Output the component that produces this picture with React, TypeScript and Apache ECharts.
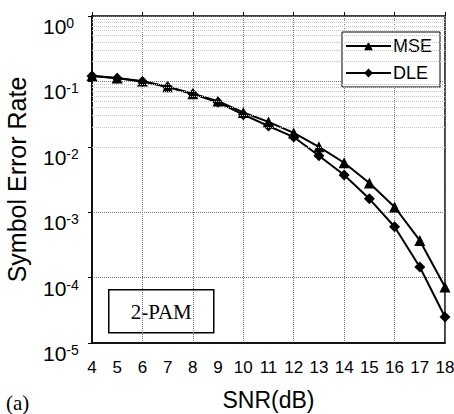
import React, { useEffect, useRef } from "react";
import * as echarts from "echarts";

const snr = [4, 5, 6, 7, 8, 9, 10, 11, 12, 13, 14, 15, 16, 17, 18];
const mseValues = [0.122, 0.113, 0.101, 0.083, 0.065, 0.05, 0.0335, 0.024, 0.0163, 0.01, 0.0057, 0.0028, 0.0012, 0.00037, 0.000072];
const dleValues = [0.121, 0.112, 0.1, 0.082, 0.064, 0.048, 0.031, 0.0208, 0.0141, 0.0073, 0.0037, 0.0016, 0.0006, 0.000145, 0.000025];
const decades = [1e-5, 1e-4, 1e-3, 1e-2, 1e-1, 1];
const minorMultipliers = [2, 3, 4, 5, 6, 7, 8, 9];

export default function App() {
  const ref = useRef<HTMLDivElement>(null);
  useEffect(() => {
    if (!ref.current) return;
    const chart = echarts.init(ref.current, null, { renderer: "svg" });
    const minorLines: any[] = [];
    decades.slice(0, -1).forEach((d) => {
      minorMultipliers.forEach((m) => minorLines.push({ yAxis: d * m }));
    });
    const font = "Liberation Sans";
    const serif = "Liberation Serif";
    const option: any = {
      animation: false,
      backgroundColor: "#fff",
      grid: {
        left: 92,
        right: 9,
        top: 16,
        bottom: 71,
        containLabel: false,
        outerBoundsMode: "none",
        show: true,
        borderColor: "#000",
        borderWidth: 1.5,
        backgroundColor: "transparent",
      },
      legend: {
        data: ["MSE", "DLE"],
        orient: "vertical",
        left: 342,
        top: 32,
        padding: [5, 8, 5, 3],
        itemWidth: 45,
        itemHeight: 11,
        itemGap: 9,
        borderColor: "#000",
        borderWidth: 1,
        backgroundColor: "#fff",
        textStyle: { fontSize: 18, lineHeight: 17, fontFamily: font, color: "#000", padding: [0, 0, 0, -3] },
      },
      xAxis: [
        {
          type: "value",
          min: 4,
          max: 18,
          interval: 1,
          position: "bottom",
          axisLine: { show: true, lineStyle: { color: "#000", width: 1.5 } },
          axisTick: { show: false },
          splitLine: { show: false },
          axisLabel: { fontSize: 17, fontFamily: font, color: "#000", margin: 16 },
          name: "SNR(dB)",
          nameLocation: "middle",
          nameGap: 45,
          nameTextStyle: { fontSize: 23, fontFamily: font, color: "#000" },
        },
        {
          type: "value",
          min: 4,
          max: 18,
          interval: 2,
          position: "top",
          axisLine: { show: false },
          axisTick: { show: true, length: 4, lineStyle: { color: "#000", width: 1 } },
          axisLabel: { show: false },
          splitLine: { show: true, lineStyle: { type: "dotted", color: "#777", width: 1 } },
        },
      ],
      yAxis: {
        type: "log",
        logBase: 10,
        min: 1e-5,
        max: 1,
        splitNumber: 5,
        axisLine: { show: true, lineStyle: { color: "#000", width: 1.5 } },
        axisTick: { show: true, length: 4, lineStyle: { color: "#000" } },
        splitLine: { show: true, lineStyle: { type: "dotted", color: "#777", width: 1 } },
        axisLabel: {
          align: "left",
          margin: 49,
          verticalAlign: "top",
          color: "#000",
          fontSize: 21,
          fontFamily: font,
          formatter: (v: number) => {
            const e = Math.round(Math.log10(v));
            return "{base|10}{sup|" + e + "}";
          },
          rich: {
            base: { fontSize: 21, lineHeight: 21, fontFamily: font, color: "#000" },
            sup: { fontSize: 14, lineHeight: 14, fontFamily: font, color: "#000", verticalAlign: "top" },
          },
        },
        name: "Symbol Error Rate",
        nameLocation: "middle",
        nameGap: 63,
        nameTextStyle: { fontSize: 25, fontFamily: font, color: "#000" },
      },
      series: [
        {
          name: "DLE",
          type: "line",
          data: snr.map((x, i) => [x, dleValues[i]]),
          symbol: "diamond",
          symbolSize: 11,
          lineStyle: { color: "#000", width: 2 },
          itemStyle: { color: "#000" },
          markLine: {
            silent: true,
            symbol: "none",
            label: { show: false },
            lineStyle: { type: "dotted", color: "#c4c4c4", width: 1 },
            data: minorLines,
          },
        },
        {
          name: "MSE",
          type: "line",
          data: snr.map((x, i) => [x, mseValues[i]]),
          symbol: "triangle",
          symbolSize: 11,
          lineStyle: { color: "#000", width: 2 },
          itemStyle: { color: "#000" },
        },
      ],
      graphic: [
        {
          type: "group",
          left: 108,
          top: 289,
          children: [
            {
              type: "rect",
              shape: { x: 0, y: 0, width: 105, height: 43 },
              style: { fill: "#fff", stroke: "#000", lineWidth: 1.5 },
            },
            {
              type: "text",
              x: 52.5,
              y: 22,
              style: {
                text: "2-PAM",
                fontSize: 21,
                fontFamily: serif,
                fill: "#000",
                align: "center",
                verticalAlign: "middle",
              },
            },
          ],
        },
        {
          type: "text",
          left: 6,
          top: 392,
          style: {
            text: "(a)",
            fontSize: 21,
            fontFamily: serif,
            fill: "#000",
          },
        },
      ],
    };
    chart.setOption(option);
    return () => chart.dispose();
  }, []);
  return <div ref={ref} style={{ position: "fixed", left: 0, top: 0, width: 454, height: 414 }} />;
}
